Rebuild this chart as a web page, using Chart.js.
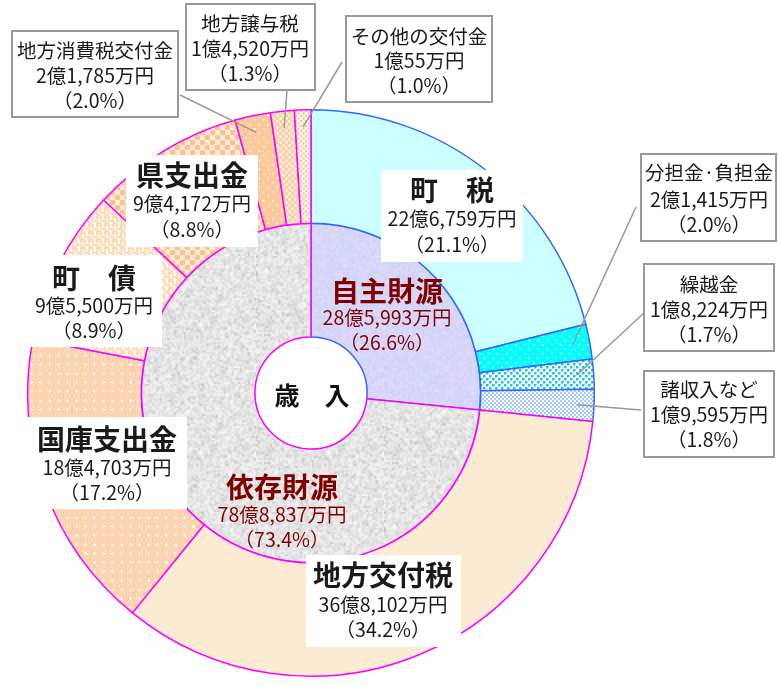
<!DOCTYPE html>
<html>
<head>
<meta charset="utf-8">
<script src="https://cdn.jsdelivr.net/npm/chart.js@4/dist/chart.umd.min.js"></script>
<style>
html,body{margin:0;padding:0;background:#fff;}
#wrap{width:779px;height:686px;position:relative;}
</style>
</head>
<body>
<div id="wrap"><canvas id="c" width="779" height="686"></canvas></div>
<script>
// ---- data ----
const categories = ['町　税','分担金·負担金','繰越金','諸収入など','地方交付税','国庫支出金','町　債','県支出金','地方消費税交付金','地方譲与税','その他の交付金'];
const amounts = [226759, 21415, 18224, 19595, 368102, 184703, 95500, 94172, 21785, 14520, 10055]; // 万円
const percents = [21.1, 2.0, 1.7, 1.8, 34.2, 17.2, 8.9, 8.8, 2.0, 1.3, 1.0];
const sourceNames = ['自主財源','依存財源'];
const sourceAmounts = [285993, 788837];
const sourcePercents = [26.6, 73.4];
const centerLabel = '歳　入';

// ---- helpers ----
const canvas = document.getElementById('c');
const ctx = canvas.getContext('2d');
const FONT = '"Noto Sans CJK JP","Noto Sans",sans-serif';

function fmtAmount(v){
  const oku = Math.floor(v/10000), man = v % 10000;
  return oku + '億' + man.toLocaleString('en-US') + '万円';
}
function fmtPct(p){ return '（' + p.toFixed(1) + '%）'; }

function tile(w,h,draw){
  const c=document.createElement('canvas'); c.width=w; c.height=h;
  const x=c.getContext('2d'); draw(x,w,h);
  return ctx.createPattern(c,'repeat');
}
function hash(i,j){ const s=Math.sin(i*127.1+j*311.7)*43758.5453; return s-Math.floor(s); }
function noiseTile(size, colorFn){
  const s=document.createElement('canvas'); s.width=s.height=size;
  const sx=s.getContext('2d'); const img=sx.createImageData(size,size);
  for(let j=0;j<size;j++)for(let i=0;i<size;i++){
    const n1=hash(i,j), n2=hash(i+17.3,j+31.9);
    const [r,g,b]=colorFn(n1,n2); const k=(j*size+i)*4;
    img.data[k]=r;img.data[k+1]=g;img.data[k+2]=b;img.data[k+3]=255;
  }
  sx.putImageData(img,0,0);
  const b=document.createElement('canvas'); b.width=b.height=size*2;
  const bx=b.getContext('2d'); bx.imageSmoothingEnabled=true; bx.drawImage(s,0,0,size*2,size*2);
  return ctx.createPattern(b,'repeat');
}

// ---- fills ----
const fChozei = '#ccffff';
const fBuntan = tile(9,9,(x)=>{x.fillStyle='#00ffff';x.fillRect(0,0,9,9);x.fillStyle='#ffffff';x.fillRect(2,2,1.6,1.6);x.fillRect(6.5,6.5,1.6,1.6);});
const fKuri = tile(6,6,(x)=>{x.fillStyle='#ffffff';x.fillRect(0,0,6,6);x.fillStyle='#18c4f4';x.fillRect(0,0,2.5,2.5);x.fillRect(3,3,2.5,2.5);});
const fShoshu = tile(4,4,(x)=>{x.fillStyle='#ffffff';x.fillRect(0,0,4,4);x.fillStyle='#a3c8ff';x.fillRect(0,0,2,2);x.fillRect(2,2,2,2);});
const fKofu = '#fcebd3';
const fKokko = tile(9,9,(x)=>{x.fillStyle='#fdd8b8';x.fillRect(0,0,9,9);x.fillStyle='#fccda2';for(let i=0;i<9;i+=2)for(let j=(i/2)%2;j<9;j+=2)x.fillRect(i,j,1,1);x.fillStyle='#ffffff';x.fillRect(4,3,1,3);x.fillRect(3,4,3,1);});
const fChosai = tile(8,8,(x)=>{x.fillStyle='#fff8f0';x.fillRect(0,0,8,8);x.strokeStyle='#fdd2a8';x.lineWidth=1.3;x.beginPath();x.moveTo(0,1);x.lineTo(5,1);x.lineTo(5,5);x.lineTo(8,5);x.moveTo(1,1);x.lineTo(1,7);x.lineTo(5,7);x.moveTo(0,5);x.lineTo(1,5);x.stroke();});
const fKen = tile(10,10,(x)=>{x.fillStyle='#fff1e4';x.fillRect(0,0,10,10);x.fillStyle='#fcc290';[[2.5,2.5],[7.5,7.5]].forEach(([a,b])=>{x.beginPath();x.arc(a,b,3,0,Math.PI*2);x.fill();});x.fillStyle='#ffe2c8';x.fillRect(6.5,1.5,2,2);x.fillRect(1.5,6.5,2,2);});
const fShohi = tile(9,9,(x)=>{x.fillStyle='#fdc99b';x.fillRect(0,0,9,9);x.fillStyle='#ffffff';x.fillRect(2,2,1.5,1.5);x.fillRect(6.5,6.5,1.5,1.5);});
const fJoyo = tile(6,6,(x)=>{x.fillStyle='#fcd0a6';x.fillRect(0,0,6,6);x.fillStyle='#ffffff';[[1.5,1.5],[4.5,4.5]].forEach(([a,b])=>{x.beginPath();x.arc(a,b,1.2,0,Math.PI*2);x.fill();});});
const fSonota = tile(5,5,(x)=>{x.fillStyle='#ffffff';x.fillRect(0,0,5,5);x.fillStyle='#fcc08c';x.fillRect(0,0,2.2,2.2);x.fillRect(2.5,2.5,2.2,2.2);});

const fJishu = noiseTile(64,(a,b)=>[200+Math.round(30*a),208+Math.round(14*b),244+Math.round(10*a)]);
const fIzon = noiseTile(64,(a,b)=>{const v=214+Math.round(34*a)-(b>0.88?22:0);return [v,v,v];});

const outerFills = [fChozei,fBuntan,fKuri,fShoshu,fKofu,fKokko,fChosai,fKen,fShohi,fJoyo,fSonota];
const BLUE='#3366ff', MAG='#ff00ff';
const outerBorders = [BLUE,BLUE,BLUE,BLUE,MAG,MAG,MAG,MAG,MAG,MAG,MAG];

// ---- label layout (positions only) ----
const outerLayout = [
  {kind:'plain', box:[381,170,142,92], cx:452, ys:[190,219,245]},
  {kind:'boxed', box:[641,154,135,87], cx:709, ys:[173,200,225], from:[636,207]},
  {kind:'boxed', box:[644,264,130,87], cx:709, ys:[285,310,335], from:[644,313]},
  {kind:'boxed', box:[644,371,130,86], cx:709, ys:[390,415,440], from:[641,410]},
  {kind:'plain', box:[306,555,155,92], cx:383, ys:[575,605,630]},
  {kind:'plain', box:[22,417,165,92], cx:107, ys:[439,468,493]},
  {kind:'plain', box:[22,255,140,92], cx:94, ys:[278,306,331]},
  {kind:'plain', box:[126,155,132,92], cx:192, ys:[175,204,230]},
  {kind:'boxed', box:[12,31,166,86], cx:95, ys:[51,76,101], from:[180,95]},
  {kind:'boxed', box:[186,4,129,86], cx:250, ys:[24,49,74], from:[287,90]},
  {kind:'boxed', box:[346,16,146,86], cx:419, ys:[37,61,86], from:[342,62]}
];
const innerLayout = [
  {cx:387, ys:[291,318,343]},
  {cx:282, ys:[487,515,540]}
];

const labelPlugin = {
  id:'labels',
  afterDatasetsDraw(chart){
    const c = chart.ctx;
    const outerMeta = chart.getDatasetMeta(0);
    c.save();
    outerLayout.forEach((L,i)=>{
      if(!L.from) return;
      const el = outerMeta.data[i];
      const p = el.getProps(['x','y','startAngle','endAngle','outerRadius'], true);
      const mid = (p.startAngle+p.endAngle)/2, r = p.outerRadius*0.94;
      c.strokeStyle='#999999'; c.lineWidth=1.5;
      c.beginPath(); c.moveTo(L.from[0],L.from[1]);
      c.lineTo(p.x+Math.cos(mid)*r, p.y+Math.sin(mid)*r); c.stroke();
    });
    c.textAlign='center'; c.textBaseline='middle';
    outerLayout.forEach((L,i)=>{
      const [bx,by,bw,bh]=L.box;
      c.fillStyle='#ffffff'; c.fillRect(bx,by,bw,bh);
      if(L.kind==='boxed'){ c.strokeStyle='#999999'; c.lineWidth=2; c.strokeRect(bx,by,bw,bh); }
      c.fillStyle='#1a1a1a';
      c.font = (L.kind==='plain' ? 'bold 28px ' : '19.5px ') + FONT;
      c.fillText(categories[i], L.cx, L.ys[0]);
      c.font = '19.5px ' + FONT;
      c.fillText(fmtAmount(amounts[i]), L.cx, L.ys[1]);
      c.fillText(fmtPct(percents[i]), L.cx, L.ys[2]);
    });
    innerLayout.forEach((L,i)=>{
      c.fillStyle='#800000';
      c.font='bold 28px '+FONT; c.fillText(sourceNames[i], L.cx, L.ys[0]);
      c.font='19.5px '+FONT;
      c.fillText(fmtAmount(sourceAmounts[i]), L.cx, L.ys[1]);
      c.fillText(fmtPct(sourcePercents[i]), L.cx, L.ys[2]);
    });
    const m = chart.getDatasetMeta(1).data[0];
    c.fillStyle='#111111'; c.font='bold 25px '+FONT;
    c.fillText(centerLabel, m.x+1, m.y+2);
    c.restore();
  }
};

new Chart(ctx, {
  type:'doughnut',
  data:{
    labels:categories,
    datasets:[
      {data:amounts, backgroundColor:outerFills, borderColor:outerBorders, borderWidth:1.5, weight:1},
      {data:sourceAmounts, backgroundColor:[fJishu,fIzon], borderColor:[BLUE,MAG], borderWidth:1.5, weight:1}
    ]
  },
  options:{
    responsive:false, animation:false, devicePixelRatio:1, events:[],
    cutout:'19.8%', rotation:0,
    layout:{padding:{left:27,top:109,right:184,bottom:9}},
    plugins:{legend:{display:false}, tooltip:{enabled:false}}
  },
  plugins:[labelPlugin]
});
</script>
</body>
</html>
